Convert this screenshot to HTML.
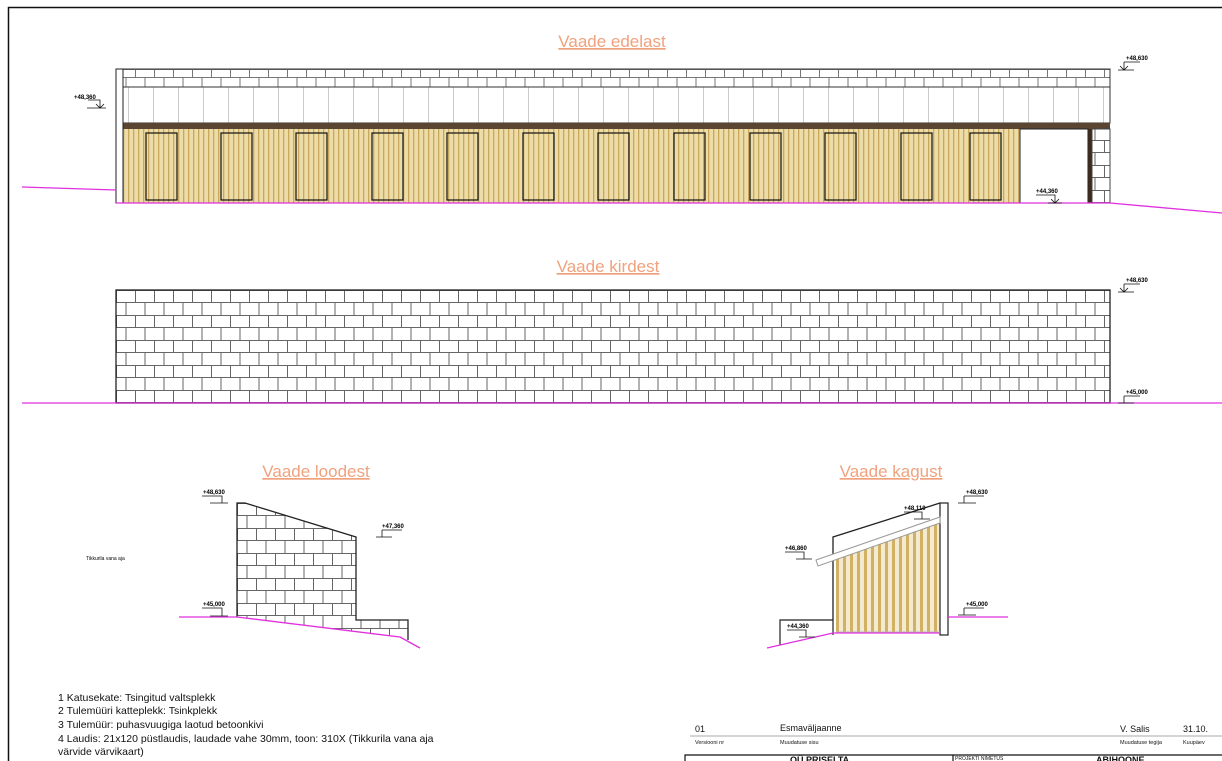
<!DOCTYPE html>
<html><head><meta charset="utf-8"><style>
body{margin:0;background:#fff;}
svg{display:block;font-family:"Liberation Sans",sans-serif;}
.t{fill:#f0a27e;font-size:17px;text-decoration:underline;}
.lv{font-size:6px;font-weight:bold;}
</style></head><body>
<svg width="1222" height="761" viewBox="0 0 1222 761" xmlns="http://www.w3.org/2000/svg">
<defs>
<pattern id="brick" x="116" y="290" width="38" height="25" patternUnits="userSpaceOnUse">
<rect width="38" height="25" fill="#fff"/>
<path d="M0 0.5H38M0 12.5H38M0.5 0V12.5M19.5 0V12.5M10 12.5V25M29 12.5V25" stroke="#666" stroke-width="1" fill="none"/>
</pattern>
<pattern id="brick2" x="237" y="503" width="38" height="25" patternUnits="userSpaceOnUse">
<rect width="38" height="25" fill="#fff"/>
<path d="M0 0.5H38M0 12.5H38M0.5 0V12.5M19.5 0V12.5M10 12.5V25M29 12.5V25" stroke="#666" stroke-width="1" fill="none"/>
</pattern>
<pattern id="roof" x="116" y="69" width="38" height="18" patternUnits="userSpaceOnUse">
<rect width="38" height="18" fill="#fff"/>
<path d="M0 0.5H38M0 8.5H38M0.5 0V8.5M19.5 0V8.5M10 8.5V18M29 8.5V18" stroke="#777" stroke-width="1" fill="none"/>
</pattern>
<pattern id="wood" x="0" y="0" width="5" height="10" patternUnits="userSpaceOnUse">
<rect width="5" height="10" fill="#ecdca8"/>
<rect x="3" width="1.3" height="10" fill="#c9a85e"/>
</pattern>
<pattern id="wood2" x="0" y="0" width="7" height="10" patternUnits="userSpaceOnUse">
<rect width="7" height="10" fill="#f4ead0"/>
<rect x="3" width="3" height="10" fill="#d2b064"/>
</pattern>
<pattern id="panel" x="116" y="0" width="25" height="10" patternUnits="userSpaceOnUse">
<rect width="25" height="10" fill="#fff"/>
<rect x="12" width="1" height="10" fill="#ccc"/>
</pattern>
</defs>

<path d="M8.5 761V7.5H1222" stroke="#111" stroke-width="1.5" fill="none"/>

<!-- Vaade edelast -->
<text x="612" y="47" class="t" text-anchor="middle">Vaade edelast </text>
<rect x="116" y="69" width="994" height="18" fill="url(#roof)" stroke="#333"/>
<rect x="116" y="87" width="994" height="36" fill="url(#panel)" stroke="#333"/>
<rect x="116" y="123" width="994" height="6" fill="#5a4532"/>
<rect x="116" y="129" width="904" height="74" fill="url(#wood)"/>
<rect x="116" y="69" width="7" height="134" fill="#fff" stroke="#222"/>
<g fill="none" stroke="#111" stroke-width="1.2">
<rect x="146" y="133" width="31" height="67"/><rect x="221" y="133" width="31" height="67"/><rect x="296" y="133" width="31" height="67"/><rect x="372" y="133" width="31" height="67"/><rect x="447" y="133" width="31" height="67"/><rect x="523" y="133" width="31" height="67"/><rect x="598" y="133" width="31" height="67"/><rect x="674" y="133" width="31" height="67"/><rect x="750" y="133" width="31" height="67"/><rect x="825" y="133" width="31" height="67"/><rect x="901" y="133" width="31" height="67"/><rect x="970" y="133" width="31" height="67"/>
</g>
<rect x="1020" y="129" width="68" height="74" fill="#fff" stroke="#222"/>
<rect x="1088" y="129" width="4" height="74" fill="#3b2c20"/>
<rect x="1092" y="129" width="18" height="74" fill="url(#brick)" stroke="#444"/>
<path d="M22 187L116 190M116 203H1110L1222 213" stroke="#e030e0" stroke-width="1.3" fill="none"/>
<text x="74" y="99" class="lv">+48,360</text><path d="M88 100H100V108M87 108H106M96 104L100 108L104 104" stroke="#111" stroke-width=".8" fill="none"/>
<text x="1126" y="60" class="lv">+48,630</text><path d="M1124 62H1140M1124 62V70M1118 70H1134M1120 66L1124 70L1128 66" stroke="#111" stroke-width=".8" fill="none"/>
<text x="1036" y="193" class="lv">+44,360</text><path d="M1036 195H1055V203M1048 203H1062M1051 199L1055 203L1059 199" stroke="#111" stroke-width=".8" fill="none"/>

<!-- Vaade kirdest -->
<text x="608" y="272" class="t" text-anchor="middle">Vaade kirdest</text>
<rect x="116" y="290" width="994" height="113" fill="url(#brick)" stroke="#222" stroke-width="1.3"/>
<path d="M22 403H1222" stroke="#e030e0" stroke-width="1.3"/>
<text x="1126" y="282" class="lv">+48,630</text><path d="M1124 284H1140M1124 284V292M1118 292H1134M1120 288L1124 292L1128 288" stroke="#111" stroke-width=".8" fill="none"/>
<text x="1126" y="394" class="lv">+45,000</text><path d="M1124 396H1140M1124 396V403M1118 403H1134" stroke="#111" stroke-width=".8" fill="none"/>

<!-- Vaade loodest -->
<text x="316" y="477" class="t" text-anchor="middle">Vaade loodest</text>
<path d="M237 503H245L356 537V620H408V640L400 637L237 617Z" fill="url(#brick2)"/>
<path d="M237 617V503H245L356 537V620H408V640" stroke="#222" stroke-width="1.3" fill="none"/>
<path d="M179 617H237L400 637L420 648" stroke="#e030e0" stroke-width="1.3" fill="none"/>
<text x="203" y="494" class="lv">+48,630</text><path d="M202 496H222V503M210 503H228" stroke="#111" stroke-width=".8" fill="none"/>
<text x="382" y="528" class="lv">+47,360</text><path d="M382 530H402M382 530V537M376 537H392" stroke="#111" stroke-width=".8" fill="none"/>
<text x="203" y="606" class="lv">+45,000</text><path d="M202 608H222V616M210 616H228" stroke="#111" stroke-width=".8" fill="none"/>
<text x="86" y="560" style="font-size:5px">Tikkurila vana aja</text>

<!-- Vaade kagust -->
<text x="891" y="477" class="t" text-anchor="middle">Vaade kagust</text>
<path d="M836 558L940 520V632H836Z" fill="url(#wood2)"/>
<path d="M833 620V537L940 503" stroke="#222" stroke-width="1.3" fill="none"/>
<rect x="940" y="503" width="8" height="132" fill="#fff" stroke="#222" stroke-width="1.2"/>
<path d="M816 560L940 517L940 523L818 566Z" fill="#fff" stroke="#999"/>
<path d="M833 620H780V645M833 620V635" stroke="#222" stroke-width="1.2" fill="none"/>
<path d="M836 632H940" stroke="#bbb"/>
<path d="M767 648L833 633H940M948 617H1008" stroke="#e030e0" stroke-width="1.3" fill="none"/>
<text x="966" y="494" class="lv">+48,630</text><path d="M964 496H984M964 496V503M958 503H976" stroke="#111" stroke-width=".8" fill="none"/>
<text x="904" y="510" class="lv">+48,110</text><path d="M904 512H922V519M914 519H930" stroke="#111" stroke-width=".8" fill="none"/>
<text x="785" y="550" class="lv">+46,860</text><path d="M785 552H804V559M796 559H812" stroke="#111" stroke-width=".8" fill="none"/>
<text x="966" y="606" class="lv">+45,000</text><path d="M964 608H984M964 608V615M958 615H976" stroke="#111" stroke-width=".8" fill="none"/>
<text x="787" y="628" class="lv">+44,360</text><path d="M787 630H806V637M799 637H815" stroke="#111" stroke-width=".8" fill="none"/>

<!-- notes -->
<g font-size="10.5" fill="#111">
<text x="58" y="701">1 Katusekate: Tsingitud valtsplekk</text>
<text x="58" y="714">2 Tulemüüri katteplekk: Tsinkplekk</text>
<text x="58" y="728">3 Tulemüür: puhasvuugiga laotud betoonkivi</text>
<text x="58" y="742">4 Laudis: 21x120 püstlaudis, laudade vahe 30mm, toon: 310X (Tikkurila vana aja</text>
<text x="58" y="755">värvide värvikaart)</text>
</g>

<!-- title block -->
<g fill="#111">
<text x="695" y="732" font-size="9">01</text>
<text x="780" y="731" font-size="9">Esmaväljaanne</text>
<text x="1120" y="732" font-size="9">V. Salis</text>
<text x="1183" y="732" font-size="9">31.10.</text>
<path d="M690 736H1222" stroke="#555" stroke-width=".6"/>
<text x="695" y="744" font-size="5.5">Versiooni nr</text>
<text x="780" y="744" font-size="5.5">Muudatuse sisu</text>
<text x="1120" y="744" font-size="5.5">Muudatuse tegija</text>
<text x="1183" y="744" font-size="5.5">Kuupäev</text>
<path d="M685 761V755H1222M953 755V761" stroke="#111" stroke-width="1.2" fill="none"/>
<text x="790" y="763" font-size="9" font-weight="bold">OÜ PRISELTA</text>
<text x="955" y="760" font-size="5">PROJEKTI NIMETUS</text>
<text x="1096" y="763" font-size="9" font-weight="bold">ABIHOONE</text>
</g>
</svg>
</body></html>
